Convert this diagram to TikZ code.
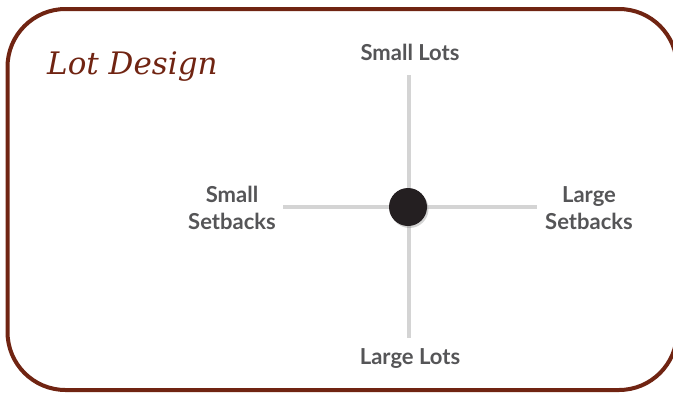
\documentclass[tikz,border=0pt]{standalone}
\usepackage{fontspec}
\usepackage{xcolor}
\usepackage{tikz}
\usetikzlibrary{positioning, shadows}
\newfontfamily\lblfont{Lato}
\newfontfamily\ttlfont{DejaVu Serif}
\definecolor{framebrown}{RGB}{112, 36, 18}
\definecolor{axisgray}{RGB}{212, 212, 212}
\definecolor{labelgray}{RGB}{85, 85, 87}
\definecolor{dotblack}{RGB}{36, 31, 33}

\begin{document}
\begin{tikzpicture}[
    x=1pt, y=-1pt,
    outline/.style={draw=framebrown, line width=4pt, rounded corners=58pt},
    axis/.style={draw=axisgray, line width=4pt},
    pole/.style={font=\lblfont\bfseries\fontsize{22}{27}\selectfont,
                 text=labelgray, align=center, inner sep=0pt},
    hub/.style={circle, fill=dotblack, minimum size=38pt, inner sep=0pt,
                drop shadow={opacity=0.35, shadow xshift=1.5pt, shadow yshift=-2pt}}
]
    \path[use as bounding box] (0,0) rectangle (673,392);
    \begin{scope}
    \clip (0,0) rectangle (673,392);
    \draw[outline] (7.5,9) rectangle (677,390);
    \end{scope}

    \node[font=\ttlfont\itshape\fontsize{31}{34}\selectfont, text=framebrown,
          anchor=base west, inner sep=0pt] (title) at (47,74) {Lot Design};

    % axes
    \coordinate (axtop) at (409,75);
    \coordinate (axbot) at (409,338);
    \coordinate (axleft) at (283,207);
    \coordinate (axright) at (537,207);
    \draw[axis] (axtop) -- (axbot);
    \draw[axis] (axleft) -- (axright);
    \node[hub] (center) at (408,207) {};

    % labels
    \node[pole, anchor=base] (smalllots) at (410,60) {Small Lots};
    \node[pole, anchor=base] (largelots) at (410,364) {Large Lots};
    \node[pole] (smallset) at (232,208) {Small\\Setbacks};
    \node[pole] (largeset) at (589,208) {Large\\Setbacks};
\end{tikzpicture}
\end{document}
